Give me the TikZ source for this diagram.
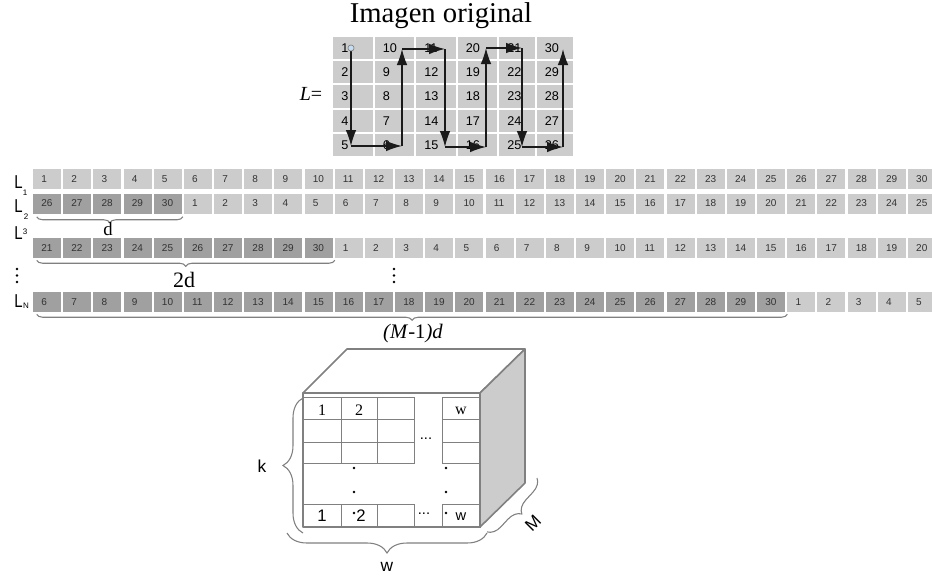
\documentclass[tikz,border=0pt]{standalone}
\usepackage{fontspec}
\usepackage{graphicx}
\setmainfont{Liberation Serif}
\setsansfont{Liberation Sans}
\usetikzlibrary{arrows.meta,decorations.pathreplacing}
\definecolor{cellL}{HTML}{CCCCCC}
\definecolor{cellD}{HTML}{A0A0A0}
\definecolor{edge}{HTML}{808080}
\definecolor{arr}{HTML}{1A1A1A}
\definecolor{dotblue}{HTML}{C8DCF0}
\begin{document}
\begin{tikzpicture}[x=0.75pt,y=-0.75pt,
  gridnum/.style={font=\sffamily\fontsize{9.5}{10}\selectfont, anchor=west, inner sep=0pt},
  cellbox/.style={minimum width=21pt, minimum height=15pt, inner sep=0pt, draw=none},
  rownum/.style={font=\sffamily\fontsize{7.5}{8}\selectfont, anchor=west, inner sep=0pt, text=black!80},
  snake/.style={draw=arr, line width=1.1pt, -{Latex[length=12pt,width=8pt]}},
  bracestyle/.style={draw=edge, line width=0.8pt, decorate},
  lab/.style={inner sep=0pt},
  Llab/.style={font=\sffamily\fontsize{14}{15}\selectfont, anchor=south west, inner sep=0pt},
  Lsub/.style={font=\sffamily\fontsize{6}{7}\selectfont, inner sep=0pt},
  cubeline/.style={draw=edge, line width=1.2pt, line join=round},
  innerline/.style={draw=edge, line width=0.6pt},
  cubeserif/.style={font=\rmfamily\fontsize{12}{13}\selectfont, inner sep=0pt},
  cubesans/.style={font=\sffamily\fontsize{12.5}{13}\selectfont, inner sep=0pt},
  bigsans/.style={font=\sffamily\fontsize{13}{14}\selectfont, inner sep=0pt},
  vdot/.style={fill=black}
]
\useasboundingbox (0,0) rectangle (932,579);
\clip (0,0) rectangle (932,579);
\fill[white] (0,0) rectangle (932,579);

% title and L=
\node[lab, font=\rmfamily\fontsize{21.5}{24}\selectfont] (title) at (441,16) {Imagen original};
\node[lab, font=\rmfamily\fontsize{15}{18}\selectfont] (Leq) at (311,94) {\textit{L}=};

% original image grid
\foreach \xl/\xr [count=\c from 0] in {332/373.5,373.5/415,415/456.5,456.5/498,498/535.5,535.5/573.5}{
  \foreach \r in {0,...,4}{
    \pgfmathtruncatemacro\v{mod(\c,2)==0 ? 5*\c+\r+1 : 5*\c+5-\r}
    \fill[cellL] ({\xl+1},{36+24.2*\r+1}) rectangle ({\xr-1},{36+24.2*(\r+1)-1});
    \node[gridnum] (g\v) at ({\xl+9},{36+24.2*\r+12.1}) {\v};
  }
}
% snake path
\coordinate (p0) at (351,48);
\coordinate (p1) at (351,146);
\coordinate (p2) at (402,146);
\coordinate (p3) at (402,49);
\coordinate (p4) at (445,49);
\coordinate (p5) at (445,147);
\coordinate (p6) at (486,147);
\coordinate (p7) at (486,48);
\coordinate (p8) at (522,48);
\coordinate (p9) at (522,147);
\coordinate (p10) at (563,147);
\coordinate (p11) at (563,49);
\draw[snake] (p0) -- (p1);
\draw[snake] (p1) -- (p2);
\draw[snake] (p2) -- (p3);
\draw[snake] (p3) -- (p4);
\draw[snake] (p4) -- (p5);
\draw[snake] (p5) -- (p6);
\draw[snake] (p6) -- (p7);
\draw[snake] (p7) -- (p8);
\draw[snake] (p8) -- (p9);
\draw[snake] (p9) -- (p10);
\draw[snake] (p10) -- (p11);
\filldraw[fill=dotblue, draw=edge, line width=0.5pt] (p0) circle (2.3pt);

% rows
\foreach \row/\yc/\sh/\nd in {1/179/0/0, 2/203.5/25/5, 3/248/20/10, 4/302/5/25}{
  \foreach \i in {1,...,30}{
    \pgfmathtruncatemacro\v{mod(\i-1+\sh,30)+1}
    \ifnum\i>\nd \def\fc{cellL}\else\def\fc{cellD}\fi
    \node[cellbox, fill=\fc] (r\row n\i) at ({33+30.17*(\i-1)+14},\yc) {};
    \node[rownum] (t\row n\i) at ({33+30.17*(\i-1)+8},\yc) {\v};
  }
}
% row labels
\node[Llab] (L1) at (14,189) {\scalebox{0.8}[1]{L}};
\node[Lsub] (L1s) at (25,193) {1};
\node[Llab] (L2) at (14,213) {\scalebox{0.8}[1]{L}};
\node[Lsub] (L2s) at (26,217) {2};
\node[Llab] (L3) at (14,240) {\scalebox{0.8}[1]{L}};
\node[Lsub] (L3s) at (25,232) {3};
\node[Llab] (LN) at (14,308) {\scalebox{0.8}[1]{L}};
\node[Lsub] (LNs) at (26,306) {N};
% vertical dots
\foreach \yy in {269,275.5,282}{
  \fill[vdot] (17,\yy) circle (1pt);
  \fill[vdot] (394,\yy) circle (1pt);
}
% braces under rows
\draw[bracestyle, decoration={brace,mirror,amplitude=4.5pt}] ([shift={(4,3)}]r2n1.south west) -- ([shift={(1,3)}]r2n5.south east);
\node[lab, font=\rmfamily\fontsize{14}{16}\selectfont] (dlab) at (108,229) {d};
\draw[bracestyle, decoration={brace,mirror,amplitude=4.5pt}] ([shift={(4,2)}]r3n1.south west) -- ([shift={(2,2)}]r3n10.south east);
\node[lab, font=\rmfamily\fontsize{16.5}{18}\selectfont] (ddlab) at (184,280) {2d};
\draw[bracestyle, decoration={brace,mirror,amplitude=4.5pt}] ([shift={(4,2)}]r4n1.south west) -- ([shift={(2,2)}]r4n25.south east);
\node[lab, font=\rmfamily\fontsize{15.5}{18}\selectfont] (mdlab) at (413,334) {\textit{(M}-1\textit{)d}};

% cube
\coordinate (fA) at (303,393);
\coordinate (fB) at (480,393);
\coordinate (fC) at (480,527);
\coordinate (fD) at (303,527);
\coordinate (bA) at (347,349);
\coordinate (bB) at (525,349);
\coordinate (bC) at (525,483);
\filldraw[fill=white, cubeline] (fA) -- (bA) -- (bB) -- (fB) -- cycle;
\filldraw[fill=cellL, cubeline] (fB) -- (bB) -- (bC) -- (fC) -- cycle;
\filldraw[fill=white, cubeline] (fA) rectangle (fC);
\foreach \xa/\xb in {303/341, 341/377, 377/414, 442/480}{
  \foreach \ya/\yb in {397/419, 419/442, 442/463}{
    \draw[innerline] (\xa,\ya) rectangle (\xb,\yb);
  }
  \draw[innerline] (\xa,504) rectangle (\xb,527);
}
\draw[cubeline] (fD) -- (fC);
\node[cubeserif] (c1) at (322,410) {1};
\node[cubeserif] (c2) at (359,410) {2};
\node[cubeserif] (cw) at (461,411) {w};
\node[cubesans] (d1) at (322,516) {1};
\node[cubesans] (d2) at (361,516) {2};
\node[cubesans, font=\sffamily\fontsize{11}{12}\selectfont] (dw) at (461,517) {w};
\node[cubesans, font=\sffamily\fontsize{11}{12}\selectfont, anchor=base] (e1) at (426,439) {...};
\node[cubesans, font=\sffamily\fontsize{11}{12}\selectfont, anchor=base] (e2) at (424,514) {...};
\foreach \yy in {468,492,513}{
  \fill[vdot] (354,\yy) circle (1pt);
  \fill[vdot] (446,\yy) circle (1pt);
}
% cube braces
\draw[bracestyle, decoration={brace,amplitude=15pt}] (303,533) -- (303,398);
\node[bigsans] (klab) at (262,466) {k};
\draw[bracestyle, decoration={brace,mirror,amplitude=15pt}] (287,533) -- (487,533);
\node[bigsans] (wlab) at (387,567) {w};
\draw[bracestyle, decoration={brace,amplitude=10pt}] (537,478) -- (487,532);
\node[bigsans, rotate=45] (mlab) at (533,523) {M};
\end{tikzpicture}
\end{document}
